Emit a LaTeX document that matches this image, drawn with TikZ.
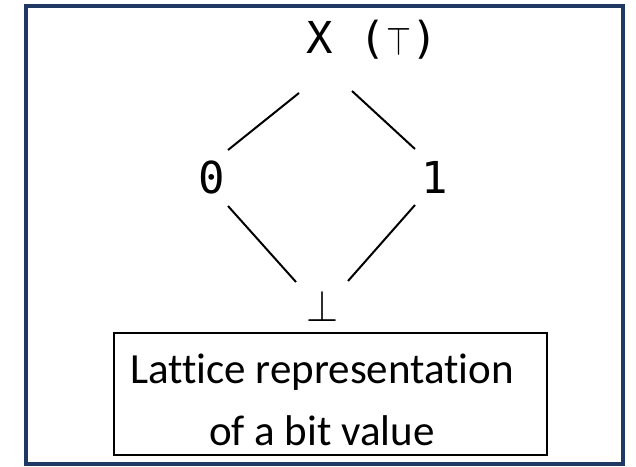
\documentclass[tikz,border=0pt]{standalone}
\usepackage{fontspec}
\usepackage{graphicx}
\setmainfont{Carlito}[Ligatures=NoCommon]
\newfontfamily\monofont{DejaVu Sans Mono}
\usetikzlibrary{calc}
\definecolor{navy}{RGB}{31,56,100}
\tikzset{
  lat/.style={inner sep=0pt, font=\monofont\fontsize{44}{50}\selectfont},
  edge/.style={line width=2pt, black},
  capbox/.style={draw=black, line width=1.5pt, minimum width=433pt, minimum height=122pt, inner sep=0pt},
  captext/.style={align=center, inner sep=0pt, font=\fontsize{43}{62}\selectfont}
}
\begin{document}
\begin{tikzpicture}[x=1pt,y=-1pt]
\useasboundingbox (0,0) rectangle (636,466);
\draw[navy, line width=4pt] (26,6) rectangle (623,464);
\node[lat, anchor=base west] (top) at (306.75,53) {X (\raisebox{-2pt}{\resizebox{25pt}{28pt}{$\top$}})};
\node[lat, anchor=base] (zero) at (211.5,193) {0};
\node[lat, anchor=base] (one) at (435,193) {1};
\node[lat, anchor=base] (bot) at (322,321) {\resizebox{32pt}{31pt}{$\bot$}};
\draw[edge] ([shift={(-7.75,40)}]top.base west) -- ([shift={(16.5,-43)}]zero.base);
\draw[edge] ([shift={(45.25,38)}]top.base west) -- ([shift={(-20,-44)}]one.base);
\draw[edge] ([shift={(16.5,13)}]zero.base) -- ([shift={(-26,-39)}]bot.base);
\draw[edge] ([shift={(-20,12)}]one.base) -- ([shift={(26,-40)}]bot.base);
\node[capbox] (cap) at (330.5,394) {};
\node[captext] (captxt) at (322,400) {Lattice representation\\of a bit value};
\end{tikzpicture}
\end{document}
